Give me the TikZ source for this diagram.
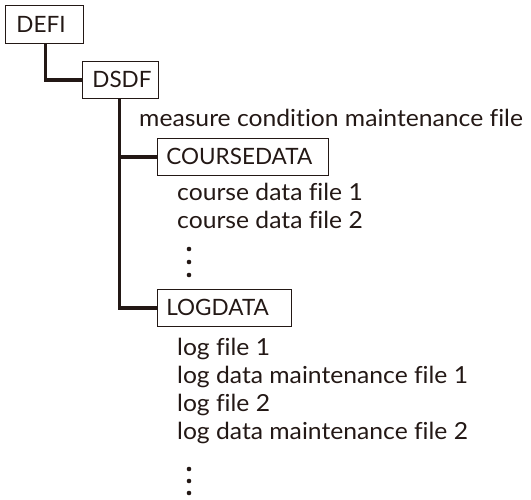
\documentclass[tikz,border=0pt]{standalone}
\usepackage{fontspec}
\setmainfont{Lato}[FakeStretch=1.05,Ligatures=NoCommon]
\newfontfamily\boxfont{Lato}
\definecolor{ink}{HTML}{231815}
\begin{document}
\begin{tikzpicture}[x=1pt,y=-1pt,
  box/.style={draw=ink, line width=0.8pt, anchor=north west, inner xsep=10pt, inner ysep=0pt,
    minimum height=37pt, align=left, text=ink, font=\boxfont\fontsize{22.5}{22.5}\selectfont},
  txt/.style={anchor=base west, inner sep=0pt, text=ink, font=\fontsize{23.5}{23.5}\selectfont},
  conn/.style={draw=ink, line width=3.3pt},
  vdot/.style={fill=ink, circle, inner sep=0pt, minimum size=4.6pt}]
\useasboundingbox (0,0) rectangle (531,499);
\node[box, text width=56pt, inner xsep=11pt, minimum height=38pt] (defi) at (5,5) {DEFI};
\node[box, text width=56pt] (dsdf) at (82,61) {DSDF};
\node[box, text width=153pt, inner xsep=9pt] (course) at (157,138) {COURSEDATA};
\node[box, text width=116pt, inner xsep=9pt] (logd) at (157,289) {LOGDATA};
\node[txt] (meas) at (139,126.5) {measure condition maintenance file};
\node[txt] (c1) at (177,200.5) {course data file 1};
\node[txt] (c2) at (177,228.5) {course data file 2};
\node[vdot] (d1) at (189,249) {};
\node[vdot] (d2) at (189,262) {};
\node[vdot] (d3) at (189,275) {};
\node[txt] (l1) at (177,355) {log file 1};
\node[txt] (l2) at (177,383) {log data maintenance file 1};
\node[txt] (l3) at (177,411) {log file 2};
\node[txt] (l4) at (177,439) {log data maintenance file 2};
\node[vdot] (e1) at (189,469) {};
\node[vdot] (e2) at (189,481) {};
\node[vdot] (e3) at (189,493) {};
\draw[conn] ([xshift=1pt]defi.south) |- (dsdf.west);
\draw[conn] ([xshift=-1pt]dsdf.south) |- (logd.west);
\draw[conn] ([xshift=-1pt]dsdf.south |- course.west) -- (course.west);
\end{tikzpicture}
\end{document}
